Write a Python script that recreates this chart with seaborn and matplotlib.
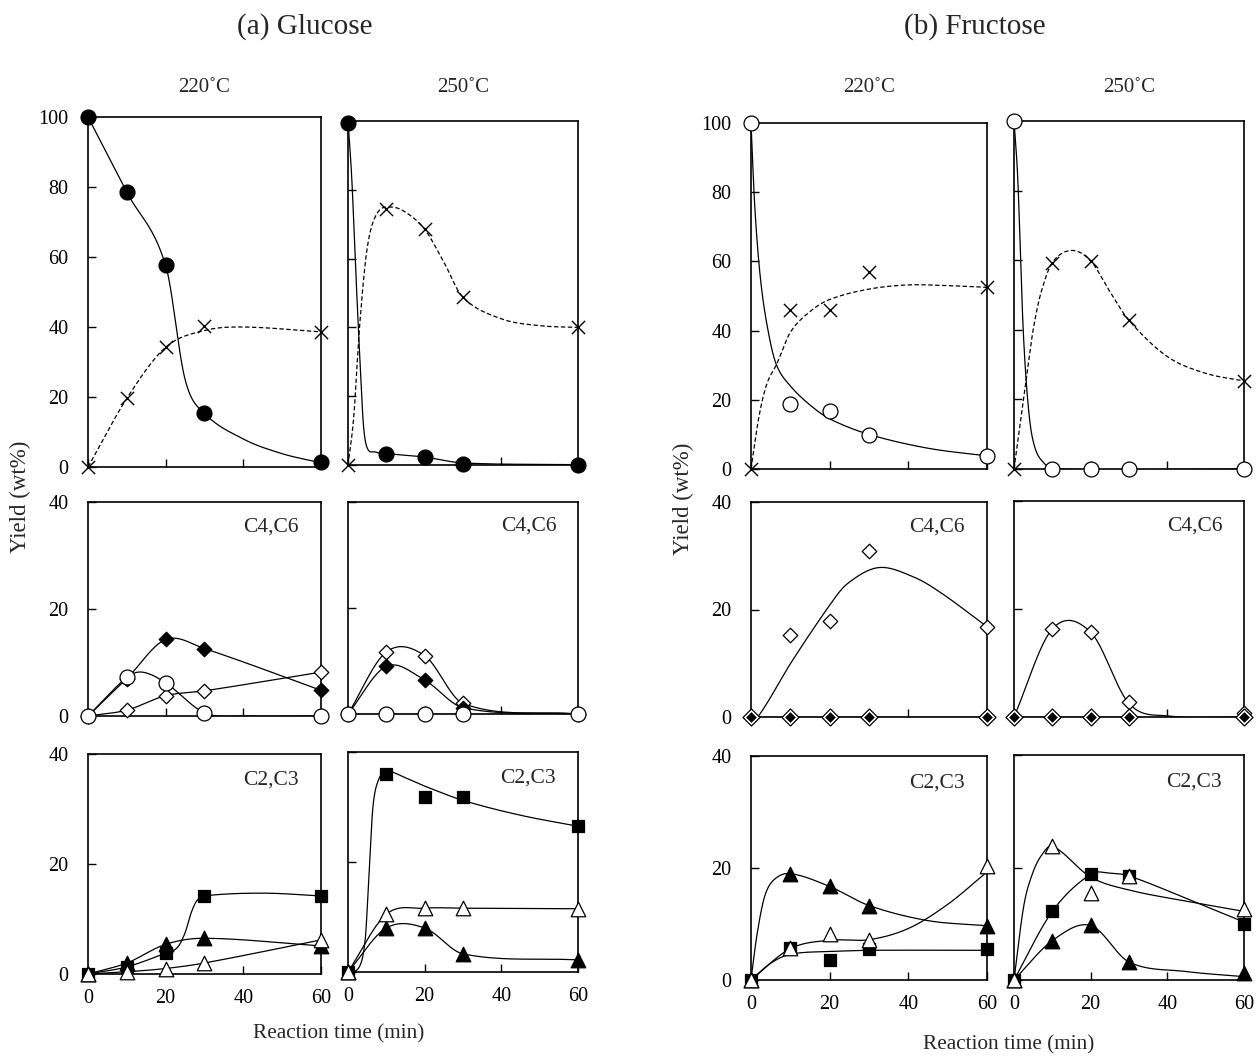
import numpy as np
import matplotlib
matplotlib.use("Agg")
import matplotlib.pyplot as plt
import seaborn as sns

# reaction times of the samples (min)
TIME = [0, 10, 20, 30, 60]

# ---- (a) Glucose, 220 C ----
glu220_glucose = [100, 78.5, 57.6, 15.3, 1.4]          # filled circle
glu220_glucose_fit_t = [0, 10, 20, 25, 30, 40, 50, 60]
glu220_glucose_fit = [100, 78.5, 57.6, 25, 15.3, 8, 3.8, 1.2]
glu220_cross = [0, 19.6, 34.2, 40.4, 38.6]
glu220_cross_fit_t = [0, 10, 20, 30, 40, 60]
glu220_cross_fit = [0, 19.6, 34.2, 39, 40, 38.6]
glu220_dia_f = [0, 7.0, 14.3, 12.6, 4.8]
glu220_dia_o = [0, 1.1, 3.8, 4.7, 8.2]
glu220_circ_o = [0, 7.2, 6.2, 0.6, 0]
glu220_circ_fit_t = [0, 10, 14, 20, 30, 40, 60]
glu220_circ_fit = [0, 7.2, 8.2, 6.2, 0.6, 0, 0]
glu220_sq = [0, 1.3, 3.8, 14.2, 14.2]
glu220_sq_fit_t = [0, 10, 20, 23, 25, 26.5, 28, 30, 45, 60]
glu220_sq_fit = [0, 1.3, 3.8, 4.8, 7.5, 11, 13.3, 14.2, 14.7, 14.2]
glu220_tri_f = [0, 2.0, 5.4, 6.5, 5.1]
glu220_tri_o = [0, 0.4, 1.0, 2.0, 6.2]

# ---- (a) Glucose, 250 C ----
glu250_glucose = [99.5, 3.3, 2.3, 0.3, 0.1]
glu250_glucose_fit_t = [0, 1, 2, 3, 4, 5, 7, 10, 20, 30, 60]
glu250_glucose_fit = [100, 83, 57, 33, 12, 5, 3.8, 3.3, 2.3, 0.6, 0.1]
glu250_cross = [0, 74.5, 68.5, 48.7, 40]
glu250_cross_fit_t = [0, 1.5, 3, 5, 7.5, 11, 15, 20, 25, 30, 40, 50, 60]
glu250_cross_fit = [0, 14, 40, 63, 73, 75, 73.5, 68.5, 59, 48.7, 42.5, 40.5, 40]
glu250_dia_f = [0, 9.0, 6.4, 1.2, 0]
glu250_dia_o = [0, 11.7, 11.0, 2.0, 0]
glu250_circ_o = [0, 0, 0, 0, 0]
glu250_sq = [0, 36.0, 31.8, 31.8, 26.5]
glu250_sq_fit_t = [0, 3, 4.5, 5.5, 6.5, 8, 10, 15, 20, 30, 45, 60]
glu250_sq_fit = [0, 1, 6, 18, 30, 35, 36.5, 35.3, 33.8, 31.2, 28.5, 26.5]
glu250_tri_o = [0, 10.5, 11.6, 11.6, 11.5]
glu250_tri_f = [0, 8.0, 8.0, 3.3, 2.2]

# ---- (b) Fructose, 220 C ----
fru220_fructose = [100, 18.8, 16.9, 9.7, 3.7]          # open circle
fru220_fructose_fit_t = [0, 1, 2.5, 4.5, 6.5, 10, 15, 20, 30, 45, 60]
fru220_fructose_fit = [100, 75, 54, 39, 30, 24, 18.5, 14.5, 10, 6, 3.8]
fru220_cross = [0, 46, 46, 57, 52.5]
fru220_cross_fit_t = [0, 2, 4, 6.6, 10, 15, 20, 30, 40, 50, 60]
fru220_cross_fit = [0, 15, 24.5, 30.5, 39.5, 45.5, 49, 52, 53.2, 53, 52.5]
fru220_dia_o = [0, 15.2, 17.9, 30.9, 16.8]
fru220_dia_o_fit_t = [0, 2, 10, 20, 24.5, 32.5, 41.5, 48.5, 60]
fru220_dia_o_fit = [0, 0.3, 9.9, 20.8, 24.8, 27.8, 26, 23, 16.8]
fru220_dia_f = [0, 0, 0, 0, 0]
fru220_tri_f = [0, 19.0, 16.7, 13.3, 9.7]
fru220_tri_f_fit_t = [0, 1.5, 3.5, 6, 10, 20, 30, 45, 60]
fru220_tri_f_fit = [0, 8, 15, 18, 19, 16.7, 13.3, 10.6, 9.7]
fru220_tri_o = [0, 5.8, 8.3, 7.1, 20.4]
fru220_tri_o_fit_t = [0, 10, 20, 30, 40, 50, 60]
fru220_tri_o_fit = [0, 5.6, 7.1, 7.2, 9.2, 13.5, 19.3]
fru220_sq = [0, 5.8, 3.6, 5.6, 5.5]
fru220_sq_fit_t = [0, 5, 10, 20, 30, 60]
fru220_sq_fit = [0, 3.0, 4.6, 5.1, 5.3, 5.3]

# ---- (b) Fructose, 250 C ----
fru250_fructose = [100, 0, 0, 0, 0]
fru250_fructose_fit_t = [0, 1, 2.4, 3.9, 5.5, 8, 10, 60]
fru250_fructose_fit = [100, 83, 40, 16, 6, 1.5, 0, 0]
fru250_cross = [0, 59.3, 59.8, 42.7, 25.3]
fru250_cross_fit_t = [0, 1.5, 3.4, 5, 7, 10, 15, 20, 25, 30, 40, 50, 60]
fru250_cross_fit = [0, 12, 27.5, 40, 50.5, 59.3, 62.8, 59.8, 51, 42.7, 32.3, 27.5, 25.3]
fru250_dia_o = [0, 16.3, 15.7, 2.8, 0.8]
fru250_dia_o_fit_t = [0, 10, 20, 30, 40, 60]
fru250_dia_o_fit = [0, 16.3, 15.7, 2.5, 0.2, 0]
fru250_dia_f = [0, 0, 0, 0, 0]
fru250_tri_o = [0, 23.8, 15.5, 18.5, 12.7]
fru250_tri_o_fit_t = [0, 2.5, 4.6, 7, 10, 20, 30, 45, 60]
fru250_tri_o_fit = [0, 13, 18.5, 22, 23.8, 18.3, 16, 14, 12.2]
fru250_sq = [0, 12.2, 18.8, 18.5, 10.0]
fru250_sq_fit_t = [0, 10, 20, 25, 30, 45, 60]
fru250_sq_fit = [0, 12.2, 18.8, 19, 18.5, 14.5, 10.3]
fru250_tri_f = [0, 7.0, 9.7, 3.2, 1.2]
fru250_tri_f_fit_t = [0, 10, 20, 30, 45, 60]
fru250_tri_f_fit = [0, 7, 9.7, 3.2, 1.5, 0.6]


sns.set_style("ticks")
plt.rcParams['font.family'] = ['Liberation Serif', 'DejaVu Serif']

W, H = 1256, 1056
fig = plt.figure(figsize=(W / 100, H / 100), dpi=100)


def smooth(t, y, n=40):
    # smoothed line like the spreadsheet "smooth line" option
    t = np.asarray(t, float)
    y = np.asarray(y, float)
    m = np.empty_like(y)
    m[1:-1] = (y[2:] - y[:-2]) / (t[2:] - t[:-2])
    m[0] = (y[1] - y[0]) / (t[1] - t[0])
    m[-1] = (y[-1] - y[-2]) / (t[-1] - t[-2])
    xs, ys = [], []
    for i in range(len(t) - 1):
        h = t[i + 1] - t[i]
        s = np.linspace(0, 1, n, endpoint=(i == len(t) - 2))
        h00 = 2 * s**3 - 3 * s**2 + 1
        h10 = s**3 - 2 * s**2 + s
        h01 = -2 * s**3 + 3 * s**2
        h11 = s**3 - s**2
        xs.append(t[i] + s * h)
        ys.append(h00 * y[i] + h10 * h * m[i] + h01 * y[i + 1] + h11 * h * m[i + 1])
    return np.concatenate(xs), np.concatenate(ys)


def panel(x0, y0, x1, y1, ymax, xlab, ylab):
    ax = fig.add_axes([x0 / W, 1 - y1 / H, (x1 - x0) / W, (y1 - y0) / H])
    return ax, ymax, xlab, ylab


def finish(ax, ymax, xlab, ylab):
    ax.set_xlim(0, 60)
    ax.set_ylim(0, ymax)
    ax.set_xticks([0, 20, 40, 60])
    ax.set_yticks(list(range(0, ymax + 1, 20)))
    if not xlab:
        ax.set_xticklabels([])
    if not ylab:
        ax.set_yticklabels([])
    ax.tick_params(direction='in', length=6, width=1, labelsize=14.5,
                   top=False, right=False, colors='black')
    ax.tick_params(axis='y', pad=14)
    ax.tick_params(axis='x', pad=11)
    for sp in ax.spines.values():
        sp.set_visible(True)
        sp.set_linewidth(1.2)
        sp.set_color('black')
    ax.set_xlabel('')
    ax.set_ylabel('')


def line(ax, t, y, dashed=False):
    xs, ys = smooth(t, y)
    ls = (0, (3.5, 2)) if dashed else '-'
    sns.lineplot(x=xs, y=ys, ax=ax, color='black', lw=0.9, linestyle=ls,
                 sort=False, estimator=None, zorder=3)


def pts(ax, y, marker, filled, s, lw=0.9, edge='black'):
    if marker == 'x':
        sns.scatterplot(x=TIME, y=y, ax=ax, marker='x', s=s, color='black',
                        linewidth=1.0, clip_on=False, zorder=5, legend=False)
    else:
        sns.scatterplot(x=TIME, y=y, ax=ax, marker=marker, s=s,
                        color='black' if filled else 'white', edgecolor=edge,
                        linewidth=lw, clip_on=False, zorder=5, legend=False)


CIRC, SQ, TRI, DIA, CROSS = 115, 80, 110, 55, 90

# ------------------ (a) Glucose ------------------
ax, *p = panel(88, 117, 321, 467, 100, False, True)
line(ax, glu220_glucose_fit_t, glu220_glucose_fit)
line(ax, glu220_cross_fit_t, glu220_cross_fit, dashed=True)
pts(ax, glu220_cross, 'x', True, CROSS)
pts(ax, glu220_glucose, 'o', True, CIRC)
finish(ax, *p)

ax, *p = panel(348, 121, 578, 465, 100, False, False)
line(ax, glu250_glucose_fit_t, glu250_glucose_fit)
line(ax, glu250_cross_fit_t, glu250_cross_fit, dashed=True)
pts(ax, glu250_cross, 'x', True, CROSS)
pts(ax, glu250_glucose, 'o', True, CIRC)
finish(ax, *p)

ax, *p = panel(88, 502, 321, 716, 40, False, True)
line(ax, TIME, glu220_dia_f)
line(ax, TIME, glu220_dia_o)
line(ax, glu220_circ_fit_t, glu220_circ_fit)
pts(ax, glu220_dia_f, 'D', True, DIA)
pts(ax, glu220_dia_o, 'D', False, DIA)
pts(ax, glu220_circ_o, 'o', False, CIRC)
ax.text(0.905, 0.885, 'C4,C6', transform=ax.transAxes, ha='right', va='center', fontsize=15.5)
finish(ax, *p)

ax, *p = panel(348, 502, 578, 714, 40, False, False)
line(ax, TIME, glu250_dia_f)
line(ax, TIME, glu250_dia_o)
line(ax, TIME, glu250_circ_o)
pts(ax, glu250_dia_o, 'D', False, DIA)
pts(ax, glu250_dia_f, 'D', True, DIA)
pts(ax, glu250_circ_o, 'o', False, CIRC)
ax.text(0.905, 0.885, 'C4,C6', transform=ax.transAxes, ha='right', va='center', fontsize=15.5)
finish(ax, *p)

ax, *p = panel(88, 754, 321, 974, 40, True, True)
line(ax, glu220_sq_fit_t, glu220_sq_fit)
line(ax, TIME, glu220_tri_f)
line(ax, TIME, glu220_tri_o)
pts(ax, glu220_sq, 's', True, SQ)
pts(ax, glu220_tri_f, '^', True, TRI)
pts(ax, glu220_tri_o, '^', False, TRI)
ax.text(0.905, 0.88, 'C2,C3', transform=ax.transAxes, ha='right', va='center', fontsize=15.5)
finish(ax, *p)

ax, *p = panel(348, 752, 578, 972, 40, True, False)
line(ax, glu250_sq_fit_t, glu250_sq_fit)
line(ax, TIME, glu250_tri_o)
line(ax, TIME, glu250_tri_f)
pts(ax, glu250_sq, 's', True, SQ)
pts(ax, glu250_tri_f, '^', True, TRI)
pts(ax, glu250_tri_o, '^', False, TRI)
ax.text(0.905, 0.88, 'C2,C3', transform=ax.transAxes, ha='right', va='center', fontsize=15.5)
finish(ax, *p)

# ------------------ (b) Fructose ------------------
ax, *p = panel(751, 123, 987, 469, 100, False, True)
line(ax, fru220_fructose_fit_t, fru220_fructose_fit)
line(ax, fru220_cross_fit_t, fru220_cross_fit, dashed=True)
pts(ax, fru220_cross, 'x', True, CROSS)
pts(ax, fru220_fructose, 'o', False, CIRC)
finish(ax, *p)

ax, *p = panel(1014, 121, 1244, 469, 100, False, False)
line(ax, fru250_fructose_fit_t, fru250_fructose_fit)
line(ax, fru250_cross_fit_t, fru250_cross_fit, dashed=True)
pts(ax, fru250_cross, 'x', True, CROSS)
pts(ax, fru250_fructose, 'o', False, CIRC)
finish(ax, *p)

ax, *p = panel(751, 502, 987, 717, 40, False, True)
line(ax, fru220_dia_o_fit_t, fru220_dia_o_fit)
line(ax, TIME, fru220_dia_f)
pts(ax, fru220_dia_o, 'D', False, DIA)
pts(ax, fru220_dia_f, 'D', False, 75)
pts(ax, fru220_dia_f, 'D', True, 38, lw=0.7, edge='white')
ax.text(0.905, 0.885, 'C4,C6', transform=ax.transAxes, ha='right', va='center', fontsize=15.5)
finish(ax, *p)

ax, *p = panel(1014, 501, 1244, 717, 40, False, False)
line(ax, fru250_dia_o_fit_t, fru250_dia_o_fit)
line(ax, TIME, fru250_dia_f)
pts(ax, fru250_dia_o, 'D', False, DIA)
pts(ax, fru250_dia_f, 'D', False, 75)
pts(ax, fru250_dia_f, 'D', True, 38, lw=0.7, edge='white')
ax.text(0.905, 0.885, 'C4,C6', transform=ax.transAxes, ha='right', va='center', fontsize=15.5)
finish(ax, *p)

ax, *p = panel(751, 756, 987, 980, 40, True, True)
line(ax, fru220_tri_f_fit_t, fru220_tri_f_fit)
line(ax, fru220_tri_o_fit_t, fru220_tri_o_fit)
line(ax, fru220_sq_fit_t, fru220_sq_fit)
pts(ax, fru220_sq, 's', True, SQ)
pts(ax, fru220_tri_f, '^', True, TRI)
pts(ax, fru220_tri_o, '^', False, TRI)
ax.text(0.905, 0.88, 'C2,C3', transform=ax.transAxes, ha='right', va='center', fontsize=15.5)
finish(ax, *p)

ax, *p = panel(1014, 755, 1244, 980, 40, True, False)
line(ax, fru250_tri_o_fit_t, fru250_tri_o_fit)
line(ax, fru250_sq_fit_t, fru250_sq_fit)
line(ax, fru250_tri_f_fit_t, fru250_tri_f_fit)
pts(ax, fru250_sq, 's', True, SQ)
pts(ax, fru250_tri_f, '^', True, TRI)
pts(ax, fru250_tri_o, '^', False, TRI)
ax.text(0.905, 0.88, 'C2,C3', transform=ax.transAxes, ha='right', va='center', fontsize=15.5)
finish(ax, *p)

# ------------------ figure texts ------------------
def ftext(x, y, s, **kw):
    fig.text(x / W, 1 - y / H, s, ha='center', va='center', **kw)


ftext(305, 27, '(a) Glucose', fontsize=21)
ftext(975, 27, '(b) Fructose', fontsize=21)
ftext(204, 88, '220\u02daC', fontsize=15)
ftext(463, 88, '250\u02daC', fontsize=15)
ftext(869, 88, '220\u02daC', fontsize=15)
ftext(1129, 88, '250\u02daC', fontsize=15)
ftext(20, 497, 'Yield (wt%)', fontsize=16.5, rotation=90)
ftext(683, 499, 'Yield (wt%)', fontsize=16.5, rotation=90)
ftext(339, 1034, 'Reaction time (min)', fontsize=15.3)
ftext(1009, 1045, 'Reaction time (min)', fontsize=15.3)

fig.savefig('out.png', dpi=100)
